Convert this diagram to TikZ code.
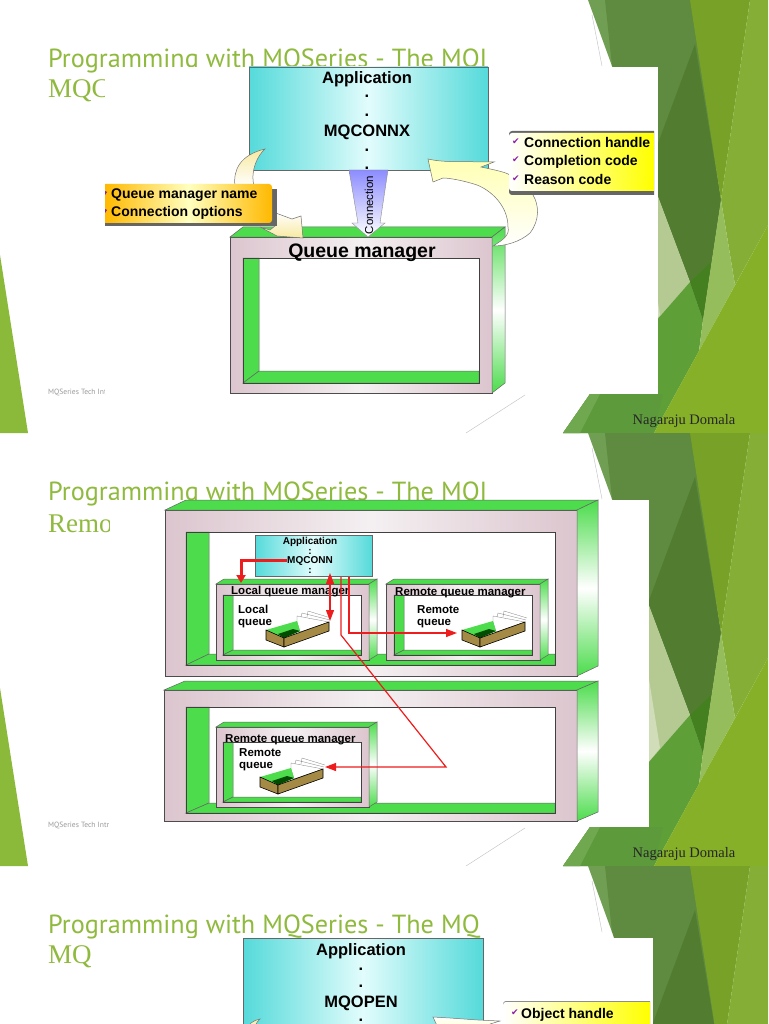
\documentclass[tikz,border=0pt]{standalone}
\usepackage{fontspec}
\setmainfont{Liberation Sans}
\newfontfamily\titlefont{PT Sans}
\newfontfamily\serifont{Liberation Serif}
\newfontfamily\chkfont{DejaVu Sans}
\usetikzlibrary{shapes,arrows,arrows.meta}

\definecolor{qmgreen}{HTML}{4CDC4C}
\definecolor{qmpink}{HTML}{DCC5CE}
\definecolor{qmpale}{HTML}{F4F0F2}
\definecolor{appcyan}{HTML}{55DADA}
\definecolor{apppale}{HTML}{E2FCFC}
\definecolor{titlegreen}{HTML}{90BA3E}
\definecolor{arrowred}{HTML}{EE1C1C}
\definecolor{creamy}{HTML}{F7E9A0}
\definecolor{tickpurple}{HTML}{8A1FA8}
\definecolor{traybrown}{HTML}{A58A45}
\definecolor{bandtop}{HTML}{709E52}
\definecolor{bandmid}{HTML}{5E8B40}
\definecolor{banddark}{HTML}{527D30}
\definecolor{bandpale}{HTML}{B5CA93}
\definecolor{bandpaler}{HTML}{D0DDB8}
\definecolor{bandgreen}{HTML}{5F9F38}
\definecolor{bandlow}{HTML}{5D9A3B}
\definecolor{bandlowl}{HTML}{70A84F}
\definecolor{banddeep}{HTML}{44801F}
\definecolor{bandolive}{HTML}{77A127}
\definecolor{bandlight}{HTML}{84AE36}
\definecolor{bandsoft}{HTML}{96BD5C}
\definecolor{bandbright}{HTML}{85B028}
\definecolor{wedgegreen}{HTML}{8BBA3A}

\tikzset{
	txt/.style={inner sep=0pt, anchor=west, text=black, text height=#1*0.72pt, text depth=0pt, font=\fontsize{#1}{#1}\selectfont\bfseries},
	ctxt/.style={inner sep=0pt, text=black, text height=#1*0.72pt, text depth=0pt, font=\fontsize{#1}{#1}\selectfont\bfseries},
	tick/.style={inner sep=0pt, text=tickpurple, font=\fontsize{9}{9}\selectfont\chkfont},
	foot/.style={inner sep=0pt, anchor=west, text=black!40, font=\fontsize{7.6}{7.6}\selectfont\titlefont},
	cream/.style={draw=black!55, line width=0.5pt, top color=white, bottom color=creamy},
	frontface/.style={draw=black!70, line width=0.6pt, left color=qmpink, right color=qmpink, middle color=qmpale},
	topface/.style={draw=black!60, line width=0.5pt, fill=qmgreen},
	sideface/.style={draw=black!60, line width=0.5pt, top color=qmgreen, bottom color=qmgreen, middle color=white},
	appbox/.style={draw=black!60, line width=0.5pt, left color=appcyan, right color=appcyan, middle color=apppale},
	redline/.style={draw=arrowred, line width=1.2pt},
}

% one slide behind the picture
\newcommand{\slideback}[8]{
	\begin{scope}[shift={(0,#2)}]
		\fill[bandtop] (588,0) -- (606,0) -- (620,66) -- (612,66) -- cycle;
		\fill[bandmid] (605,0) -- (692,0) -- (721,200) -- (703,320) -- (690,282) -- (648,170) -- (612,66) -- cycle;
		\fill[banddark] (695,44) -- (721,200) -- (703,320) -- (690,282) -- (648,170) -- cycle;
		\fill[bandpale] (648,170) -- (690,282) -- (648,330) -- cycle;
		\fill[bandpaler] (648,240) -- (660,315) -- (648,330) -- cycle;
		\fill[bandgreen] (690,282) -- (703,320) -- (699,351) -- (654,433) -- (563,433) -- (590,394) -- (640,340) -- (648,330) -- cycle;
		\fill[bandlow] (590,394) -- (663,394) -- (654,433) -- (563,433) -- cycle;
		\fill[bandlowl] (590,394) -- (600,394) -- (580,433) -- (563,433) -- cycle;
		\fill[banddeep] (690,282) -- (711,262) -- (703,320) -- cycle;
		\fill[bandolive] (690,0) -- (750,0) -- (721,200) -- cycle;
		\fill[bandlight] (750,0) -- (768,0) -- (768,225) -- (735,285) -- (721,200) -- cycle;
		\fill[bandsoft] (721,200) -- (735,285) -- (699,351) -- (703,320) -- cycle;
		\fill[bandbright] (768,225) -- (768,433) -- (654,433) -- cycle;
		\fill[wedgegreen] (0,255) -- (28,433) -- (0,433) -- cycle;
		\draw[black!25, line width=0.4pt] (592,15) -- (602,66) (466,433) -- (525,395);
		\begin{scope}
			\clip (0,30) rectangle (#7,120);
			\node[inner sep=0pt, anchor=west, text=titlegreen, font=\fontsize{26.2}{26.2}\selectfont\titlefont] (#1title) at (48,61) {Programming with MQSeries - The MQI};
		\end{scope}
		\node[inner sep=0pt, anchor=west, text=titlegreen, font=\fontsize{27}{27}\selectfont\serifont] (#1sub) at (48,91) {#8};
		\fill[white] (#3,#4) rectangle (#5,#6);
	\end{scope}
}

% front and top and side of a queue manager box: x0 y0 x1 y1 dx dy
\newcommand{\qmfront}[6]{
	\path[frontface] (#1,#2) rectangle (#3,#4);
	\path[topface] (#1,#2) -- ++(#5,-#6) -- (#3+#5,#2-#6) -- (#3,#2) -- cycle;
	\path[sideface] (#3,#2) -- (#3+#5,#2-#6) -- (#3+#5,#4-#6) -- (#3,#4) -- cycle;
}
% hole of the box: x0 y0 x1 y1 wall floor
\newcommand{\qmhole}[6]{
	\fill[white] (#1,#2) rectangle (#3,#4);
	\path[topface] (#1,#2) -- (#5,#2) -- (#5,#6) -- (#1,#4) -- cycle;
	\path[topface] (#1,#4) -- (#5,#6) -- (#3,#6) -- (#3,#4) -- cycle;
	\draw[black!75, line width=0.6pt] (#1,#2) rectangle (#3,#4);
}
% message tray, by its left corner
\newcommand{\qtray}[2]{
	\begin{scope}[shift={(#1,#2)}]
		\fill[white, draw=black!50, line width=0.3pt] (31,-14) -- (63,-8) -- (34,2) -- (31,-8) -- cycle;
		\draw[black!50, line width=0.3pt] (36,-17) -- (64,-10) (42,-19) -- (65,-12) (36,-17) -- (35,-13) (42,-19) -- (41,-13);
		\fill[qmgreen] (0,0) -- (31,-9) -- (34,1) -- (18,8) -- cycle;
		\fill[black!70!green] (12,4) -- (27,-1) -- (34,1) -- (18,8) -- cycle;
		\path[draw=black, line width=0.6pt, fill=traybrown] (0,0) -- (18,8) -- (18,17) -- (0,10) -- cycle;
		\path[draw=black, line width=0.6pt, fill=traybrown] (18,8) -- (63,-8) -- (63,1) -- (18,17) -- cycle;
	\end{scope}
}

\begin{document}
\begin{tikzpicture}[x=1pt, y=-1pt, >={Triangle[length=11pt,width=8pt]}]
	\clip (0,0) rectangle (768,1024);
	\fill[white] (0,0) rectangle (768,1024);
	\node[foot] (foota) at (48,392) {MQSeries Tech Intr};
	\node[foot] (footb) at (48,825) {MQSeries Tech Intr};
	\slideback{a}{0}{105}{67}{658}{394}{485}{MQC}
	\slideback{b}{433}{110}{67}{649}{394}{485}{Remo}
	\slideback{c}{866}{95}{72}{653}{433}{481}{MQ}
	\tikzstyle{byline}=[inner sep=0pt, text=black!85, font=\fontsize{14.5}{14.5}\selectfont\serifont]
	\node[byline] (namea) at (684,421) {Nagaraju Domala};
	\node[byline] (nameb) at (684,854) {Nagaraju Domala};

	% first slide
	\qmfront{230}{237}{492}{393}{13}{10}
	\qmhole{243}{258}{479}{383}{259}{371}
	\path[appbox] (249,67) rectangle (488,170);
	\path[draw=black!45, line width=0.4pt, top color=blue!45!white, bottom color=white] (349,170) -- (388,170) -- (380,223) -- (385,223) -- (368,237) -- (352,223) -- (358,223) -- cycle;
	\node[font=\fontsize{11.5}{11.5}\selectfont, inner sep=0pt, rotate=90] (conn) at (369,205) {Connection};
	\node[ctxt=16.5] (app) at (367,78) {Application};
	\node[ctxt=16.5] (appd1) at (367,92) {.};
	\node[ctxt=16.5] (appd2) at (367,111) {.};
	\node[ctxt=16.5] (connx) at (367,131) {MQCONNX};
	\node[ctxt=16.5] (appd3) at (367,146) {.};
	\node[ctxt=16.5] (appd4) at (367,164) {.};
	\node[ctxt=19.5] (qm) at (362,250) {Queue manager};
	\path[cream, top color=creamy, bottom color=white] (235,186) .. controls (233,170) and (240,155) .. (265,149) .. controls (258,155) and (250,170) .. (254,186) -- cycle;
	\path[cream] (273,212) -- (292,219) -- (301,216) -- (303,238) -- (277,236) -- (260,227) -- (270,230) -- (275,226) -- cycle;
	\path[cream, top color=yellow!30, bottom color=white] (428,159) .. controls (445,163) and (465,161) .. (478,162) -- (494,162) -- (481,167) .. controls (495,170) and (505,172) .. (510,175) -- (533,195) .. controls (539,205) and (540,220) .. (530,233) .. controls (520,242) and (505,246) .. (493,246) .. controls (503,240) and (510,235) .. (508,227) .. controls (508,205) and (490,190) .. (477,185) .. controls (465,181) and (450,178) .. (443,178) -- (433,182) -- cycle;

	\fill[black!60] (105,189) rectangle (277,226);
	\path[left color=orange!55!yellow, right color=orange!55!yellow, middle color=yellow!25] (105,184) [rounded corners=3pt] -- (272,184) -- (272,223) [sharp corners] -- (105,223) -- cycle;
	\fill[tickpurple] (105,191) -- (107,192) -- (105,195) -- cycle;
	\fill[tickpurple] (105,209) -- (107,210) -- (105,213) -- cycle;
	\node[txt=14] (qmname) at (111,193) {Queue manager name};
	\node[txt=14] (connopt) at (111,211) {Connection options};

	\path[fill=black!60] (654,131) [rounded corners=3pt] -- (509,131) -- (509,195) [sharp corners] -- (654,195) -- cycle;
	\path[left color=white, right color=yellow] (654,133) [rounded corners=3pt] -- (509,133) -- (509,191) [sharp corners] -- (654,191) -- cycle;
	\node[tick] (t1) at (516,142) {✔};
	\node[tick] (t2) at (516,160) {✔};
	\node[tick] (t3) at (516,179) {✔};
	\node[txt=14] (chandle) at (524,142) {Connection handle};
	\node[txt=14] (ccode) at (524,160) {Completion code};
	\node[txt=14] (rcode) at (524,179) {Reason code};

	% second slide
	\qmfront{165}{510}{577}{676}{21}{10}
	\qmhole{186}{532}{555}{665}{209}{654}
	\qmfront{164}{690}{577}{821}{21}{9}
	\qmhole{186}{707}{555}{813}{209}{803}

	\qmfront{216}{584}{369}{660}{8}{5}
	\qmhole{223}{595}{361}{655}{233}{650}
	\qmfront{386}{584}{540}{660}{8}{5}
	\qmhole{394}{595}{532}{655}{404}{650}
	\qmfront{216}{727}{369}{807}{8}{5}
	\qmhole{223}{742}{361}{802}{233}{797}

	\path[appbox] (255,535) rectangle (372,576);
	\node[ctxt=10] (app2) at (310,541) {Application};
	\node[ctxt=10] (app2d1) at (310,551) {:};
	\node[ctxt=10] (conn2) at (310,560) {MQCONN};
	\node[ctxt=10] (app2d2) at (310,570) {:};

	\node[txt=11.5] (lqm) at (231,590) {Local queue manager};
	\node[txt=11.5] (rqm) at (395,591) {Remote queue manager};
	\node[txt=11.5] (rqm2) at (225,738) {Remote queue manager};
	\node[txt=11.5] (lq1) at (238,609) {Local};
	\node[txt=11.5] (lq2) at (238,621) {queue};
	\node[txt=11.5] (rq1) at (417,609) {Remote};
	\node[txt=11.5] (rq2) at (417,621) {queue};
	\node[txt=11.5] (rr1) at (239,752) {Remote};
	\node[txt=11.5] (rr2) at (239,764) {queue};
	\qtray{266}{630}
	\qtray{462}{630}
	\qtray{260}{777}

	\coordinate (lqtop) at (241,583);
	\coordinate (apptop) at (330,573);
	\coordinate (lqin) at (330,621);
	\coordinate (out1) at (341,577);
	\coordinate (bend1) at (341,635);
	\coordinate (bend2) at (446,767);
	\coordinate (rqin2) at (325,767);
	\coordinate (out2) at (349,577);
	\coordinate (bend3) at (349,633);
	\coordinate (rqin) at (457,633);
	\draw[redline, line width=3pt, ->, >={Triangle[length=8pt,width=9pt]}] (conn2.west) -| (lqtop);
	\draw[redline, <->] (apptop) -- (lqin);
	\draw[redline, ->] (out1) -- (bend1) -- (bend2) -- (rqin2);
	\draw[redline, ->] (out2) -- (bend3) -- (rqin);

	% third slide
	\path[appbox] (243,938) rectangle (483,1040);
	\node[ctxt=16.5] (app3) at (361,950) {Application};
	\node[ctxt=16.5] (app3d1) at (361,965) {.};
	\node[ctxt=16.5] (app3d2) at (361,982) {.};
	\node[ctxt=16.5] (open) at (361,1002) {MQOPEN};
	\node[ctxt=16.5] (app3d3) at (361,1016) {.};
	\path[cream, top color=creamy, bottom color=white] (248,1030) .. controls (248,1024) and (252,1021) .. (260,1019) .. controls (256,1023) and (254,1026) .. (256,1030) -- cycle;
	\path[cream, top color=white, bottom color=yellow!25] (433,1017) -- (450,1018) -- (478,1020) -- (500,1021) -- (490,1024) -- (495,1032) -- (440,1032) -- cycle;
	\path[fill=black!45] (650,1001) [rounded corners=3pt] -- (503,1001) -- (503,1030) [sharp corners] -- (650,1030) -- cycle;
	\path[left color=white, right color=yellow] (650,1002) [rounded corners=3pt] -- (503,1002) -- (503,1030) [sharp corners] -- (650,1030) -- cycle;
	\node[tick] (t4) at (515,1013) {✔};
	\node[txt=14] (ohandle) at (521,1013) {Object handle};
\end{tikzpicture}
\end{document}
